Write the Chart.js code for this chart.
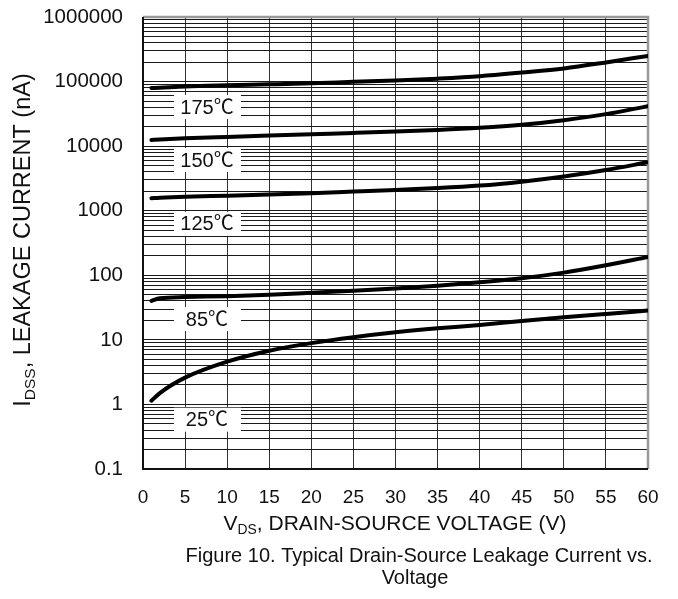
<!DOCTYPE html>
<html>
<head>
<meta charset="utf-8">
<script src="https://cdn.jsdelivr.net/npm/chart.js@4"></script>
<style>
  html, body { margin: 0; padding: 0; background: #fff; }
  canvas { display: block; }
</style>
</head>
<body>
<canvas id="grafico" width="678" height="599"></canvas>
<script>
// datos
const voltaje = [1, 2, 5, 10, 15, 20, 25, 30, 35, 40, 45, 50, 55, 60];
const fuga175 = [79500, 80500, 84000, 87500, 90500, 94000, 99000, 104000, 111000, 121000, 138000, 160000, 198000, 250000];
const fuga150 = [12500, 12700, 13200, 13900, 14600, 15300, 16000, 16800, 17800, 19200, 21400, 25200, 31300, 41700];
const fuga125 = [1560, 1590, 1650, 1710, 1780, 1870, 1980, 2100, 2240, 2450, 2820, 3390, 4270, 5640];
const fuga85  = [40, 44, 46, 47.5, 50, 53.5, 57.5, 62.5, 69, 78, 90, 110, 143, 192];
const fuga25  = [1.14, 1.5, 2.6, 4.6, 6.8, 8.9, 11, 13.1, 15.1, 17, 19.6, 22.3, 25.2, 28.4];

const etiquetasTemp = ['175℃', '150℃', '125℃', '85℃', '25℃'];
const ticksX = [0, 5, 10, 15, 20, 25, 30, 35, 40, 45, 50, 55, 60];
const decadasY = [0.1, 1, 10, 100, 1000, 10000, 100000, 1000000];

const FUENTE = '"Liberation Sans", Arial, sans-serif';
const FUENTE_C = '"Liberation Sans", Arial, "Noto Sans CJK SC", sans-serif';

// todas las lineas de la rejilla: 1..9 por decada
const ticksY = [];
decadasY.forEach((d, i) => {
  if (i === decadasY.length - 1) { ticksY.push(d); return; }
  for (let k = 1; k <= 9; k++) ticksY.push(+(d * k).toPrecision(3));
});

function serie(datos) {
  return {
    data: voltaje.map((v, i) => ({ x: v, y: datos[i] })),
    borderColor: '#000',
    borderWidth: 4,
    pointRadius: 0,
    fill: false,
    cubicInterpolationMode: 'monotone',
    borderCapStyle: 'round'
  };
}

// texto con subindice
function textoSub(ctx, partes, x, y, size) {
  let ancho = 0;
  partes.forEach(p => {
    ctx.font = (p.sub ? size * 0.66 : size) + 'px ' + FUENTE;
    ancho += ctx.measureText(p.t).width;
  });
  let cx = x - ancho / 2;
  partes.forEach(p => {
    ctx.font = (p.sub ? size * 0.66 : size) + 'px ' + FUENTE;
    ctx.fillText(p.t, cx, p.sub ? y + size * 0.28 : y);
    cx += ctx.measureText(p.t).width;
  });
}

const extras = {
  id: 'extras',
  beforeDatasetsDraw(chart) {
    const { ctx, chartArea: a } = chart;
    ctx.save();
    // borde
    ctx.lineWidth = 2.5;
    ctx.strokeStyle = '#999';
    ctx.beginPath();
    ctx.moveTo(a.left, a.top); ctx.lineTo(a.right, a.top); ctx.lineTo(a.right, a.bottom);
    ctx.stroke();
    ctx.lineWidth = 2;
    ctx.strokeStyle = '#111';
    ctx.beginPath();
    ctx.moveTo(a.left, a.top); ctx.lineTo(a.left, a.bottom); ctx.lineTo(a.right, a.bottom);
    ctx.stroke();
    ctx.restore();
  },
  afterDatasetsDraw(chart) {
    const { ctx, scales } = chart;
    const posY = [40400, 6100, 625, 21, 0.58];
    const px = scales.x.getPixelForValue(7.6);
    ctx.save();
    ctx.textAlign = 'left';
    ctx.textBaseline = 'middle';
    etiquetasTemp.forEach((t, i) => {
      const py = scales.y.getPixelForValue(posY[i]);
      ctx.fillStyle = '#fff';
      ctx.fillRect(px - 33, py - 12, 67, 24);
      ctx.fillStyle = '#111';
      ctx.font = '20px ' + FUENTE_C;
      const w = ctx.measureText(t).width;
      ctx.fillText(t, px - w / 2, py + 1);
    });

    // titulos de ejes
    ctx.fillStyle = '#111';
    ctx.textBaseline = 'middle';
    ctx.textAlign = 'left';
    textoSub(ctx, [{ t: 'V' }, { t: 'DS', sub: true }, { t: ', DRAIN-SOURCE VOLTAGE (V)' }], 395, 524, 21);

    ctx.save();
    ctx.translate(24, 240);
    ctx.rotate(-Math.PI / 2);
    textoSub(ctx, [{ t: 'I' }, { t: 'DSS', sub: true }, { t: ', LEAKAGE CURRENT (nA)' }], 0, 0, 23.5);
    ctx.restore();

    ctx.textAlign = 'center';
    ctx.font = '20px ' + FUENTE;
    ctx.fillText('Figure 10. Typical Drain-Source Leakage Current vs.', 419, 556);
    ctx.fillText('Voltage', 415, 578);
    ctx.restore();
  }
};

const chart = new Chart(document.getElementById('grafico').getContext('2d'), {
  type: 'line',
  data: {
    datasets: [serie(fuga175), serie(fuga150), serie(fuga125), serie(fuga85), serie(fuga25)]
  },
  options: {
    responsive: false,
    animation: false,
    layout: { padding: { left: 0, top: 17, right: 30, bottom: 0 } },
    plugins: { legend: { display: false }, tooltip: { enabled: false } },
    scales: {
      x: {
        type: 'linear',
        min: 0, max: 60,
        afterBuildTicks: s => { s.ticks = ticksX.map(v => ({ value: v })); },
        afterFit: s => { s.height = 130; s.paddingLeft = 0; s.paddingRight = 0; },
        grid: { color: '#333', lineWidth: 1, drawTicks: false },
        border: { display: false },
        ticks: { color: '#111', padding: 17, font: { family: FUENTE, size: 19 }, maxRotation: 0 }
      },
      y: {
        type: 'logarithmic',
        min: 0.1, max: 1000000,
        afterBuildTicks: s => { s.ticks = ticksY.map(v => ({ value: v, major: decadasY.includes(v) })); },
        afterFit: s => { s.width = 143; s.paddingTop = 0; s.paddingBottom = 0; },
        grid: { color: '#1a1a1a', lineWidth: 1, drawTicks: false },
        border: { display: false },
        ticks: {
          color: '#111', padding: 20, autoSkip: false,
          font: { family: FUENTE, size: 20.5 },
          callback: v => decadasY.includes(v) ? String(v) : ''
        }
      }
    }
  },
  plugins: [extras]
});
</script>
</body>
</html>
